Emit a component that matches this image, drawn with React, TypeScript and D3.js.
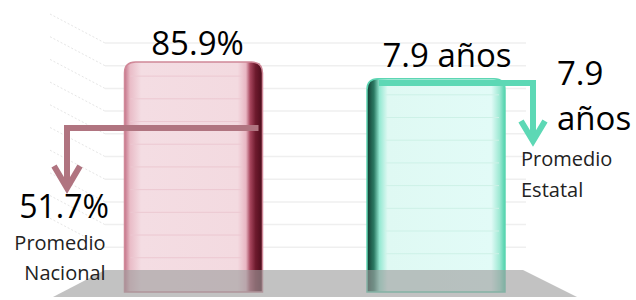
import React from 'react';
import * as d3 from 'd3';

// bar values (each bar on its own unit)
const categories = ['Porcentaje', 'Escolaridad'];
const barValues = [85.9, 7.9];
const barMax = [100, 10];
const barLabels = ['85.9%', '7.9 años'];

// reference averages
const refValues = ['51.7%', '7.9'];
const refUnit = ['', 'años'];
const refNames = [['Promedio', 'Nacional'], ['Promedio', 'Estatal']];

const gridSteps = 10;

const W = 636;
const H = 300;
const floorY = 270;
const wallLeft = 105;
const wallRight = 526;
const barW = 138;
const font = '"Open Sans", sans-serif';

export default function App() {
  const x = d3.scalePoint<string>().domain(categories).range([193.5, 436]);
  const yScales = barMax.map(m => d3.scaleLinear().domain([0, m]).range([floorY, floorY - 242]));
  const grid = d3.scaleLinear().domain([0, gridSteps]).range([floorY, 43]);
  const gridTicks = d3.range(1, gridSteps + 1);

  const barPath = (x0: number, top: number, bottom: number, r: number) => {
    const p = d3.path();
    p.moveTo(x0, bottom);
    p.lineTo(x0, top + r);
    p.quadraticCurveTo(x0, top, x0 + r, top);
    p.lineTo(x0 + barW - r, top);
    p.quadraticCurveTo(x0 + barW, top, x0 + barW, top + r);
    p.lineTo(x0 + barW, bottom);
    p.closePath();
    return p.toString();
  };

  const pinkX = x(categories[0])! - barW / 2;
  const tealX = x(categories[1])! - barW / 2;
  const pinkTop = yScales[0](barValues[0]);
  const tealTop = yScales[1](barValues[1]);
  const bottom = floorY + 22;

  return (
    <svg width={W} height={H} style={{ position: 'absolute', left: 0, top: 0, background: '#fff' }}>
      <defs>
        <linearGradient id="pink" x1="0" x2="1" y1="0" y2="0">
          <stop offset="0" stopColor="#c47489" />
          <stop offset="0.04" stopColor="#e9bcc7" />
          <stop offset="0.12" stopColor="#f4dde3" />
          <stop offset="0.82" stopColor="#f3dae0" />
          <stop offset="0.88" stopColor="#e9b6c3" />
          <stop offset="0.91" stopColor="#a8475e" />
          <stop offset="0.95" stopColor="#6e1a2d" />
          <stop offset="1" stopColor="#4a0c1a" />
        </linearGradient>
        <linearGradient id="teal" x1="0" x2="1" y1="0" y2="0">
          <stop offset="0" stopColor="#123a30" />
          <stop offset="0.05" stopColor="#2b7a63" />
          <stop offset="0.09" stopColor="#93e8d1" />
          <stop offset="0.15" stopColor="#dff9f3" />
          <stop offset="0.9" stopColor="#e2fbf7" />
          <stop offset="0.96" stopColor="#9fe9d4" />
          <stop offset="1" stopColor="#4fd2ac" />
        </linearGradient>
      </defs>

      {/* grid */}
      {gridTicks.map(t => (
        <g key={t}>
          <line x1={wallLeft} x2={wallRight} y1={grid(t)} y2={grid(t)} stroke="#efefef" strokeWidth={1.5} />
          <line x1={50} x2={wallLeft} y1={grid(t) - 29} y2={grid(t)} stroke="#e6e6e6" strokeWidth={1} strokeDasharray="2,2" />
        </g>
      ))}

      {/* bars */}
      <path d={barPath(pinkX, pinkTop, bottom, 11)} fill="url(#pink)" stroke="#d08898" strokeWidth={1.5} />
      {d3.range(pinkTop + 14, floorY, 22.7).map(v => (
        <line key={'p' + v} x1={pinkX + 6} x2={pinkX + barW - 20} y1={v} y2={v} stroke="#ecc8d1" strokeWidth={1} />
      ))}
      <path d={barPath(tealX, tealTop, bottom, 11)} fill="url(#teal)" stroke="#5dd6b3" strokeWidth={1.5} />
      {d3.range(tealTop + 16, floorY, 22.7).map(v => (
        <line key={'t' + v} x1={tealX + 18} x2={tealX + barW - 6} y1={v} y2={v} stroke="#cdf1e7" strokeWidth={1} />
      ))}

      {/* floor */}
      <path d={`M${wallLeft},${floorY} L523,${floorY} L577,297 L53,297 Z`} fill="#9c9c9c" opacity={0.62} />

      {/* arrows */}
      <g fill="none" strokeWidth={6} strokeLinejoin="miter">
        <path d={`M${pinkX + barW - 4},128 H67 V187`} stroke="#b07480" />
        <polyline points="54,166 67,188 80,166" stroke="#b07480" />
        <path d={`M${tealX + 12},83 H533 V140`} stroke="#5dd8b5" />
        <polyline points="521,121 533,141 545,121" stroke="#5dd8b5" />
      </g>

      {/* value labels */}
      <g fontFamily={font} fill="#000">
        <text x={x(categories[0])! + 4} y={55} fontSize={33} textAnchor="middle">{barLabels[0]}</text>
        <text x={x(categories[1])! + 11} y={67} fontSize={33} textAnchor="middle">{barLabels[1]}</text>

        <text x={64} y={218} fontSize={32} textAnchor="middle">{refValues[0]}</text>
        <text x={60} y={250} fontSize={20} textAnchor="middle" fill="#222">{refNames[0][0]}</text>
        <text x={65} y={280} fontSize={20} textAnchor="middle" fill="#222">{refNames[0][1]}</text>

        <text x={557} y={85} fontSize={33}>{refValues[1]}</text>
        <text x={557} y={130} fontSize={33}>{refUnit[1]}</text>
        <text x={521} y={166} fontSize={20} fill="#222">{refNames[1][0]}</text>
        <text x={521} y={197} fontSize={20} fill="#222">{refNames[1][1]}</text>
      </g>
    </svg>
  );
}
